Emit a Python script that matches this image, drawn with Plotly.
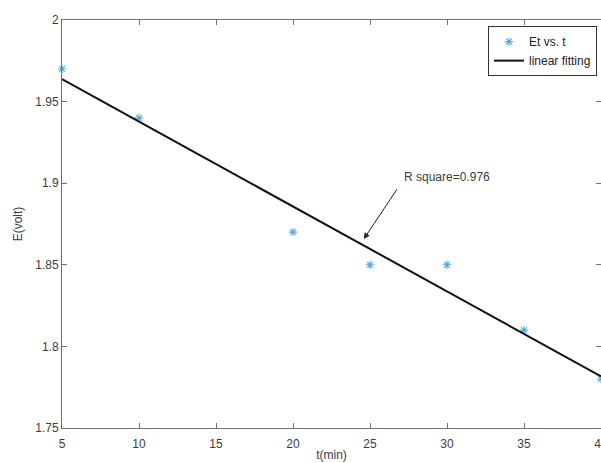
import numpy as np
import plotly.graph_objects as go

# Measured cell potential over time
t_min = [5, 10, 20, 25, 30, 35, 40]
e_volt = [1.97, 1.94, 1.87, 1.85, 1.85, 1.81, 1.78]

x_ticks = [5, 10, 15, 20, 25, 30, 35, 40]
y_ticks = [1.75, 1.8, 1.85, 1.9, 1.95, 2.0]
y_tick_text = ["1.75", "1.8", "1.85", "1.9", "1.95", "2"]

# Least-squares straight line through the measurements
slope, intercept = np.polyfit(t_min, e_volt, 1)
fit_x = [t_min[0], t_min[-1]]
fit_y = [slope * v + intercept for v in fit_x]
r_square = 0.976

# Point on the fitted line that the annotation arrow points at
arrow_t = 24.6
arrow_e = slope * arrow_t + intercept + 0.004

AXIS_GREY = "#6e6e6e"
TEXT_GREY = "#3c3c3c"
FONT = "Liberation Sans, Arial, sans-serif"

fig = go.Figure()
fig.add_trace(go.Scatter(
    x=t_min, y=e_volt, mode="markers", name="Et vs. t",
    marker=dict(symbol="asterisk-open", size=7, color="#55a8d8",
                line=dict(color="#55a8d8", width=1.1)),
    cliponaxis=False,
))
fig.add_trace(go.Scatter(
    x=fit_x, y=fit_y, mode="lines", name="linear fitting",
    line=dict(color="#111111", width=2),
))

# Arrow pointing at the fit line
fig.add_annotation(
    x=arrow_t, y=arrow_e, xref="x", yref="y", text="",
    showarrow=True, ax=34, ay=-51, arrowhead=2, arrowsize=1.2,
    arrowwidth=1, arrowcolor="#222222",
)
# Goodness-of-fit label
fig.add_annotation(
    x=27.1, y=1.9038, xref="x", yref="y",
    text=f"R square={r_square}", showarrow=False,
    xanchor="left", yanchor="middle",
    font=dict(family=FONT, size=12, color=TEXT_GREY),
)

axis_common = dict(
    showline=True, linecolor=AXIS_GREY, linewidth=1, mirror="ticks",
    ticks="inside", ticklen=5, tickcolor=AXIS_GREY, tickwidth=1,
    showgrid=False, zeroline=False, ticklabeloverflow="allow",
    automargin=False,
    tickfont=dict(family=FONT, size=12, color=TEXT_GREY),
    title_font=dict(family=FONT, size=12, color=TEXT_GREY),
)

fig.update_xaxes(
    range=[5, 40], tickmode="array", tickvals=x_ticks,
    ticktext=[str(v) for v in x_ticks], ticklabelstandoff=5,
    title_text="t(min)", title_standoff=0, **axis_common,
)
fig.update_yaxes(
    range=[1.75, 2.0], tickmode="array", tickvals=y_ticks,
    ticktext=y_tick_text,
    title_text="E(volt)", title_standoff=10, **axis_common,
)

fig.update_layout(
    width=601, height=463,
    margin=dict(l=62, r=0, t=20, b=35),
    paper_bgcolor="white", plot_bgcolor="white",
    font=dict(family=FONT, size=12, color=TEXT_GREY),
    showlegend=True,
    legend=dict(
        x=0.9926, y=0.985, xanchor="right", yanchor="top",
        bgcolor="white", bordercolor="#333333", borderwidth=1,
        font=dict(family=FONT, size=12, color="#222222"),
        itemwidth=30, tracegroupgap=0,
    ),
)

fig.write_html("out.html")
